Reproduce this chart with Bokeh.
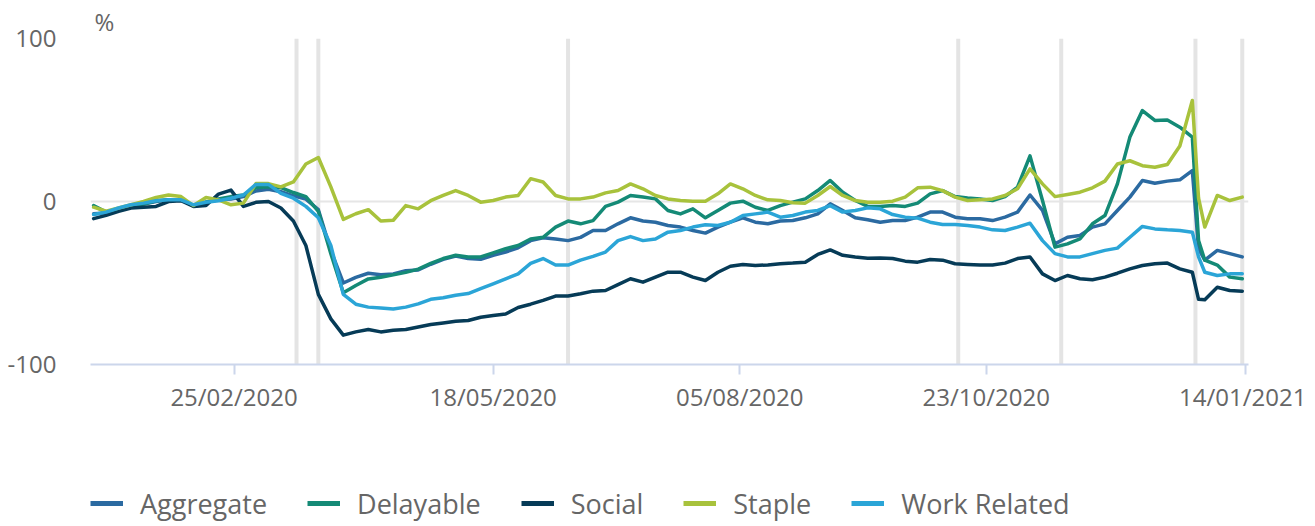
import pandas as pd
from bokeh.plotting import figure
from bokeh.layouts import column
from bokeh.models import (Range1d, FixedTicker, DatetimeTickFormatter, Span,
                          Legend, LegendItem)
from bokeh.embed import file_html
from bokeh.resources import INLINE

# ---- data ----
dates = list(pd.date_range("2020-01-11", periods=93, freq="4D"))
dates.insert(89, pd.Timestamp("2020-12-30"))

aggregate = [-7.5, -7, -4.5, -2.5, -1.5, 0, 1, 1, -2.5, -0.5, 1, 1.5, 3, 6.5, 7.5, 6, 3.5, 1.5, -5,
             -30, -50, -46.5, -44, -45, -44.5, -42.5, -42, -38.5, -35.5, -33.5, -35, -35.5,
             -33, -31, -28.4, -24, -22.3, -23, -24, -22, -17.8, -17.8, -13.7, -10, -12, -12.7, -14.7, -15.7,
             -17.8, -19.4, -15.7, -12.7, -10, -12.7, -13.7, -12, -11.7, -10, -7.6, -1.4, -5.5, -10, -11.2, -12.7,
             -11.7, -11.7, -9.6, -6.5, -6.5, -9.6, -10.6, -10.6, -11.7, -9.6, -6.5, 4, -5.5, -26, -21.9, -20.9,
             -15.7, -13.7, -5.5, 2.7, 12.9, 11.2, 12.5, 13.3, 19,
             -29,
             -36, -30, -32, -34]

delayable = [-2.5, -6.5, -4.5, -3, -1.5, 0.5, 1, 1, -2.5, -0.5, 1.5, 3, 4, 8.5, 9, 8.5, 5.5, 3, -6,
             -32, -56, -51.5, -47.5, -46.5, -45, -43.5, -41.5, -38, -35, -33, -34, -34,
             -31.5, -29, -27, -23, -22, -15.7, -12, -13.7, -11.7, -3, -0.4, 3.7, 2.7, 1.6, -5.5, -7.6,
             -4.5, -10, -5.5, -1, 0.2, -3.5, -5.5, -2.5, -0.4, 1.6, 6.7, 12.9, 5.7, 0.6, -3, -3,
             -2.5, -3, -1, 4.7, 6.7, 3, 2.2, 1.6, 0.6, 3, 8.8, 28, 0.6, -28, -26, -23,
             -13.7, -8.6, 10.8, 39.5, 55.8, 49.7, 50, 45.6, 39.5,
             -24,
             -36, -39, -46.4, -47.4]

social = [-10.5, -8.5, -6, -4, -3.5, -3, 0, 0.5, -3, -2.5, 4.5, 7, -3, -0.5, 0, -4, -12, -27, -57,
          -72, -82, -80, -78.5, -80, -79, -78.5, -77, -75.5, -74.5, -73.5, -73, -71,
          -70, -69, -65, -63, -60.7, -58, -58, -56.6, -55, -54.6, -51, -47.4, -49.5, -46.4, -43.4, -43.4,
          -46.4, -48.5, -43.4, -39.7, -38.6, -39.3, -38.9, -38.2, -37.8, -37.2, -32.5, -29.7, -33, -34, -34.8, -34.6,
          -35, -36.6, -37.2, -35.6, -36, -38.2, -38.6, -39, -39, -37.8, -35, -34, -44.4, -48.5, -45.4, -47.4,
          -48, -46.4, -44, -41.3, -39.3, -38.2, -37.8, -41.3, -43.4,
          -60,
          -60.3, -52.6, -54.6, -55]

staple = [-3.5, -6, -4, -2, 0, 2.5, 4, 3, -2.5, 2.5, 1, -2, -1, 11, 11, 9, 12, 23, 27,
          9, -11, -7.5, -5, -12, -11.5, -2.5, -4.5, 0.5, 3.7, 6.7, 3.7, -0.4,
          0.6, 2.7, 3.7, 14, 12, 3.7, 1.6, 1.6, 2.7, 5.3, 6.7, 10.8, 7.8, 3.7, 1.6, 0.6,
          0.2, 0.2, 4.7, 10.8, 7.8, 3.7, 1, 0.6, -0.8, -1, 3.7, 9.2, 3.7, 0.6, -0.4, -0.4,
          0.2, 2.7, 8.4, 8.8, 6.7, 2.7, 0.6, 1, 1.6, 3.7, 7.8, 20, 10.8, 3, 4.3, 5.7,
          8.4, 12.5, 23, 25, 22, 21, 22.7, 34, 62,
          2,
          -15.7, 3.7, 0.6, 2.7]

work_related = [-8, -6.5, -4, -2, -1, 0.5, 1, 1, -2, -0.5, 0.5, 2, 4, 10.5, 10.5, 5, 2, -3, -10,
                -27, -57, -63, -64.8, -65.4, -66, -64.8, -62.8, -60, -59, -57.5, -56.5, -53.5,
                -50.5, -47.4, -44.4, -38, -35, -39, -39, -36, -33.7, -31, -24, -21.5, -24, -23, -18.8, -17.8,
                -15.7, -14.3, -14.7, -12.7, -8.6, -7.6, -6.5, -9.6, -8.6, -6.5, -5.5, -2.5, -6.5, -5.5, -3.9, -4.5,
                -8, -9.6, -10.2, -12.7, -14.1, -14.1, -14.7, -15.7, -17.4, -17.8, -15.7, -13.3, -24, -32, -34, -34,
                -32, -30, -28.6, -21.9, -15.3, -16.8, -17.4, -17.8, -18.8,
                -34,
                -43.4, -45.4, -44.4, -44.4]

series_names = ["Aggregate", "Delayable", "Social", "Staple", "Work Related"]
series_values = [aggregate, delayable, social, staple, work_related]
series_colors = ["#2b6aa1", "#148a76", "#063b57", "#a8c23c", "#2ba5d7"]

tick_dates = ["2020-02-25", "2020-05-18", "2020-08-05", "2020-10-23", "2021-01-14"]
event_dates = ["2020-03-16", "2020-03-23", "2020-06-11", "2020-10-14",
               "2020-11-16", "2020-12-29", "2021-01-13"]
y_ticks = [-100, 0, 100]
y_tick_labels = {-100: "-100", 0: "0", 100: "100"}


def ms(d):
    return pd.Timestamp(d).timestamp() * 1000.0


FONT = "Open Sans"
TXT = "#666666"

plot = figure(x_axis_type="datetime", output_backend="svg", toolbar_location=None,
              frame_width=1158, frame_height=326,
              min_border_left=90, min_border_right=58, min_border_top=38, min_border_bottom=60,
              x_range=Range1d(pd.Timestamp("2020-01-10"), pd.Timestamp("2021-01-15")),
              y_range=Range1d(-100, 100))
plot.outline_line_color = None
plot.background_fill_color = "white"
plot.border_fill_color = "white"

# "%" unit title above the plot, left aligned
plot.title.text = "%"
plot.title.align = "left"
plot.title.offset = 4
plot.title.standoff = 2
plot.title.text_font = FONT
plot.title.text_font_size = "24px"
plot.title.text_font_style = "normal"
plot.title.text_color = TXT

# event lines
for d in event_dates:
    plot.add_layout(Span(location=ms(d), dimension="height", line_color="#e4e4e4",
                         line_width=4, level="underlay"))

for name, vals, col in zip(series_names, series_values, series_colors):
    plot.line(dates, vals, line_color=col, line_width=3.5, line_join="round", line_cap="round")

# axes
xa = plot.xaxis[0]
xa.ticker = FixedTicker(ticks=[ms(d) for d in tick_dates])
xa.formatter = DatetimeTickFormatter(days="%d/%m/%Y", months="%d/%m/%Y", years="%d/%m/%Y",
                                     hours="%d/%m/%Y", minutes="%d/%m/%Y", seconds="%d/%m/%Y",
                                     milliseconds="%d/%m/%Y", microseconds="%d/%m/%Y",
                                     hourmin="%d/%m/%Y", minsec="%d/%m/%Y")
xa.axis_line_color = "#ccd6eb"
xa.axis_line_width = 2
xa.major_tick_line_color = "#ccd6eb"
xa.major_tick_line_width = 2
xa.major_tick_out = 10
xa.major_tick_in = 0
xa.minor_tick_line_color = None
xa.major_label_standoff = 5
xa.major_label_text_font = FONT
xa.major_label_text_font_size = "24px"
xa.major_label_text_color = TXT

ya = plot.yaxis[0]
ya.ticker = FixedTicker(ticks=y_ticks)
ya.major_label_overrides = y_tick_labels
ya.axis_line_color = None
ya.major_tick_line_color = None
ya.minor_tick_line_color = None
ya.major_tick_out = 0
ya.major_tick_in = 0
ya.major_label_standoff = 34
ya.major_label_text_font = FONT
ya.major_label_text_font_size = "24px"
ya.major_label_text_color = TXT

plot.xgrid.visible = False
plot.ygrid.grid_line_color = "#e6e6e6"
plot.ygrid.grid_line_width = 2

# ---- legend strip below the chart ----
leg_fig = figure(width=1306, height=100, output_backend="svg", toolbar_location=None,
                 x_axis_location=None, y_axis_location=None,
                 min_border_left=90, min_border_right=0, min_border_top=0, min_border_bottom=0,
                 x_range=Range1d(0, 1), y_range=Range1d(0, 1))
leg_fig.outline_line_color = None
leg_fig.grid.visible = False
leg_fig.background_fill_color = "white"
leg_fig.border_fill_color = "white"

items = []
for name, col in zip(series_names, series_colors):
    # swatch renderer: its single segment lies outside the visible range
    r = leg_fig.line([-10, -9], [-10, -10], line_color=col, line_width=5)
    items.append(LegendItem(label=name, renderers=[r]))

legend = Legend(items=items, orientation="horizontal", location=(0, 2),
                glyph_width=33, glyph_height=38, label_height=38, label_standoff=17, spacing=40,
                padding=0, margin=0, border_line_color=None, background_fill_alpha=0,
                label_text_font=FONT, label_text_font_size="27px", label_text_color=TXT)
leg_fig.add_layout(legend, "center")

p = column(plot, leg_fig, spacing=0)

open("out.html", "w").write(file_html(p, INLINE))
